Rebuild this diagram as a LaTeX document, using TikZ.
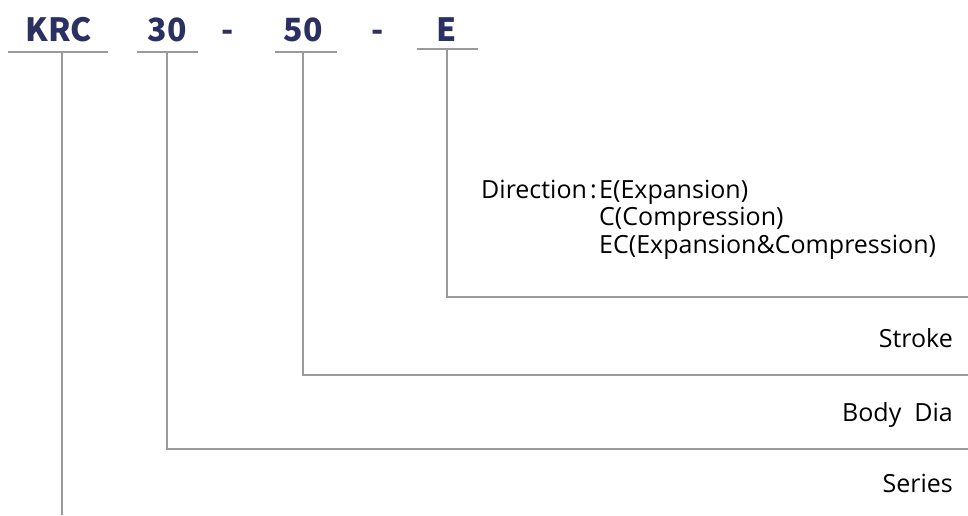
\documentclass[tikz,border=0pt]{standalone}
\usepackage{fontspec}
\setmainfont{Noto Sans CJK KR}
\newfontfamily\lblfont{Open Sans}
\definecolor{navy}{HTML}{2A3160}
\definecolor{linegray}{HTML}{9A9A9A}
\tikzset{
  code/.style={font=\fontsize{32}{32}\selectfont\bfseries, text=navy, inner sep=0pt, anchor=base},
  lbl/.style={font=\lblfont\fontsize{25}{28}\selectfont, text=black, inner sep=0pt},
  ln/.style={draw=linegray, line width=2pt},
}
\begin{document}
\begin{tikzpicture}[x=1pt,y=-1pt]
\useasboundingbox (0,0) rectangle (968,515);
% code letters
\node[code] (krc) at (59,41) {KRC};
\node[code] (n30) at (167,41) {30};
\node[code] (d1) at (228,41) {-};
\node[code] (n50) at (303,41) {50};
\node[code] (d2) at (378,41) {-};
\node[code] (e) at (447,41) {E};
% underlines
\draw[ln] (8,52) -- (108,52);
\draw[ln] (137,52) -- (198,52);
\draw[ln] (275,52) -- (337,52);
\draw[ln] (417,49) -- (478,49);
% coordinates
\coordinate (kt) at (62,52);
\coordinate (kb) at (62,515);
\coordinate (t30) at (167,52);
\coordinate (c30) at (167,449);
\coordinate (r30) at (968,449);
\coordinate (t50) at (303,52);
\coordinate (c50) at (303,375);
\coordinate (r50) at (968,375);
\coordinate (te) at (447,49);
\coordinate (ce) at (447,297);
\coordinate (re) at (968,297);
\draw[ln] (kt) -- (kb);
\draw[ln] (t30) -- (c30) -- (r30);
\draw[ln] (t50) -- (c50) -- (r50);
\draw[ln] (te) -- (ce) -- (re);
% labels
\node[lbl, anchor=base east] (stroke) at (953,347) {Stroke};
\node[lbl, anchor=base east] (body) at (953,421) {Body\ \ Dia};
\node[lbl, anchor=base east] (series) at (953,492) {Series};
\node[lbl, anchor=base west] (dir) at (481,198) {Direction};
\node[lbl, anchor=base west] (colon) at (590,198) {:};
\node[lbl, anchor=base west] (o1) at (599,198) {E(Expansion)};
\node[lbl, anchor=base west] (o2) at (599,225) {C(Compression)};
\node[lbl, anchor=base west] (o3) at (599,253) {EC(Expansion\&Compression)};
\end{tikzpicture}
\end{document}
